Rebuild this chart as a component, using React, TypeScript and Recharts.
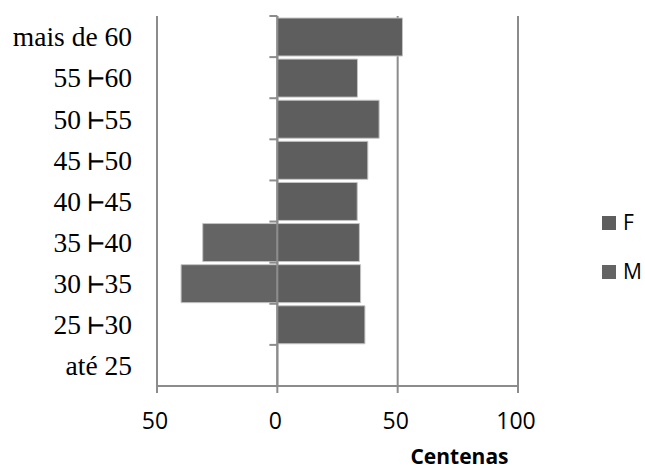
import React from "react";
import {
  BarChart,
  Bar,
  XAxis,
  YAxis,
  CartesianGrid,
  Legend,
  ReferenceLine,
  Label,
} from "recharts";

const ageGroups = [
  "mais de 60",
  "55 ⊢60",
  "50 ⊢55",
  "45 ⊢50",
  "40 ⊢45",
  "35 ⊢40",
  "30 ⊢35",
  "25 ⊢30",
  "até 25",
];
const femaleValues = [52, 33.3, 42.3, 37.6, 33.2, 34.1, 34.6, 36.4, 0];
const maleValues = [0, 0, 0, 0, 0, -31, -40, 0, 0];
const xTicks = [-50, 0, 50, 100];
const legendOrder = ["F", "M"];

const data = ageGroups.map((age, i) => ({
  age,
  F: femaleValues[i],
  M: maleValues[i],
}));

const GRID = "#8c8c8c";
const COLORS: Record<string, string> = { F: "#5e5e5e", M: "#646464" };
const TICK_LEN = 3.3;

const LegendContent = (props: any) => {
  const payload = (props.payload || []).slice();
  payload.sort(
    (a: any, b: any) => legendOrder.indexOf(a.value) - legendOrder.indexOf(b.value)
  );
  return (
    <div>
      {payload.map((p: any) => (
        <div
          key={p.value}
          style={{ height: 49, display: "flex", alignItems: "center" }}
        >
          <span
            style={{
              width: 14,
              height: 14,
              background: COLORS[p.value],
              display: "inline-block",
              marginRight: 7,
            }}
          />
          <span
            style={{
              fontFamily: "'Open Sans', sans-serif",
              fontSize: 21,
              color: "#000",
              lineHeight: "21px",
            }}
          >
            {p.value}
          </span>
        </div>
      ))}
    </div>
  );
};

export default function App() {
  return (
    <div style={{ position: "absolute", left: 0, top: 0 }}>
      <BarChart
        width={645}
        height={470}
        data={data}
        layout="vertical"
        stackOffset="sign"
        margin={{ top: 16, right: 77, bottom: 0, left: 0 }}
      >
        <CartesianGrid
          horizontal={false}
          vertical={true}
          stroke={GRID}
          strokeWidth={2}
        />
        <XAxis
          type="number"
          domain={[-50, 100]}
          ticks={xTicks}
          tickFormatter={(v: number) => String(Math.abs(v))}
          height={84}
          axisLine={{ stroke: GRID, strokeWidth: 2 }}
          tickLine={{ stroke: GRID, strokeWidth: 2 }}
          tickSize={7}
          tickMargin={20}
          tick={{
            fill: "#000",
            fontFamily: "'Open Sans', sans-serif",
            fontSize: 23,
            dx: -2,
          }}
          allowDataOverflow
        >
          <Label
            content={(p: any) => {
              const vb = p.viewBox || {};
              return (
                <text
                  x={vb.x + vb.width * 0.838}
                  y={vb.y + 78}
                  textAnchor="middle"
                  fontFamily="'Open Sans', sans-serif"
                  fontWeight="bold"
                  fontSize={21}
                  fill="#000"
                >
                  Centenas
                </text>
              );
            }}
          />
        </XAxis>
        <YAxis
          type="category"
          dataKey="age"
          width={157}
          axisLine={false}
          tickLine={false}
          tickSize={0}
          tickMargin={25}
          tick={{
            fill: "#000",
            fontFamily: "'Liberation Serif', 'DejaVu Sans Mono', serif",
            fontSize: 27.5,
          }}
          interval={0}
        />
        <ReferenceLine x={0} stroke={GRID} strokeWidth={2} />
        {ageGroups.map((g) => (
          <ReferenceLine
            key={g}
            segment={[
              { x: -TICK_LEN, y: g },
              { x: 0, y: g },
            ]}
            position="start"
            stroke={GRID}
            strokeWidth={2}
            ifOverflow="visible"
          />
        ))}
        <Bar
          dataKey="F"
          stackId="a"
          fill={COLORS.F}
          stroke="#c4c4c4"
          strokeWidth={1}
          barSize={38}
          isAnimationActive={false}
        />
        <Bar
          dataKey="M"
          stackId="a"
          fill={COLORS.M}
          stroke="#c4c4c4"
          strokeWidth={1}
          barSize={38}
          isAnimationActive={false}
        />
        <Legend
          layout="vertical"
          align="right"
          verticalAlign="middle"
          content={LegendContent}
          wrapperStyle={{ left: 602, top: 198, width: 50 }}
        />
      </BarChart>
    </div>
  );
}
